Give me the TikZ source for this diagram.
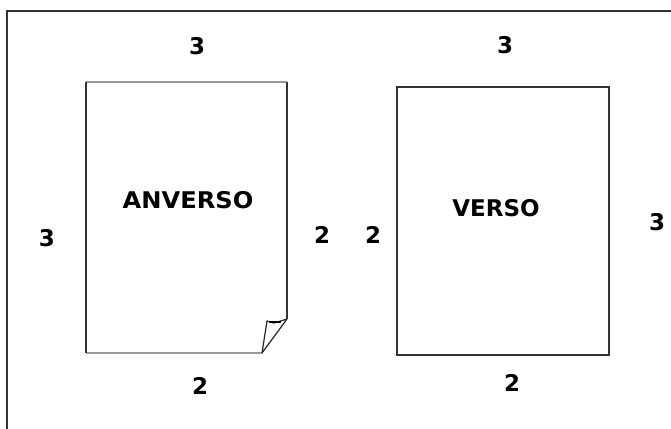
\documentclass[tikz,border=0pt]{standalone}
\usepackage{fontspec}
\setmainfont{DejaVu Sans}
\begin{document}
\begin{tikzpicture}[x=1pt,y=-1pt,
  lbl/.style={font=\fontsize{23}{26}\selectfont\bfseries, inner sep=0pt, text=black},
  darkline/.style={draw=black!80, line width=1.3pt},
  grayline/.style={draw=black!40, line width=1.3pt}]
\useasboundingbox (0,0) rectangle (671,428);
\fill[white] (0,0) rectangle (671,428);
% outer frame
\draw[black!80, line width=1.2pt] (7,440) -- (7,11) -- (690,11);
% anverso page
\coordinate (a1) at (86,82);
\coordinate (a2) at (287,82);
\coordinate (a3) at (287,319);
\coordinate (a4) at (262,353);
\coordinate (a5) at (86,353);
\coordinate (f1) at (267,321);
\coordinate (f2) at (274,323);
\draw[grayline] (a1) -- (a2);
\draw[grayline] (a4) -- (a5);
\draw[darkline] (a2) -- (a3);
\draw[darkline] (a5) -- (a1);
\draw[black!85, line width=1.2pt, line join=round] (a4) -- (f1) -- (f2) -- (a3) -- cycle;
\draw[black, line width=2.2pt] (269,322) -- (281,322);
% verso page
\draw[darkline] (397,87) rectangle (609,355);
% labels
\node[lbl] (anv) at (188,200) {\scalebox{1.05}[1]{ANVERSO}};
\node[lbl] (ver) at (496,208) {VERSO};
\node[lbl] (t1) at (197,46) {3};
\node[lbl] (t2) at (505,45) {3};
\node[lbl] (l1) at (47,238) {3};
\node[lbl] (r1) at (322,235) {2};
\node[lbl] (l2) at (373,235) {2};
\node[lbl] (r2) at (657,222) {3};
\node[lbl] (b1) at (200,386) {2};
\node[lbl] (b2) at (512,383) {2};
\end{tikzpicture}
\end{document}
